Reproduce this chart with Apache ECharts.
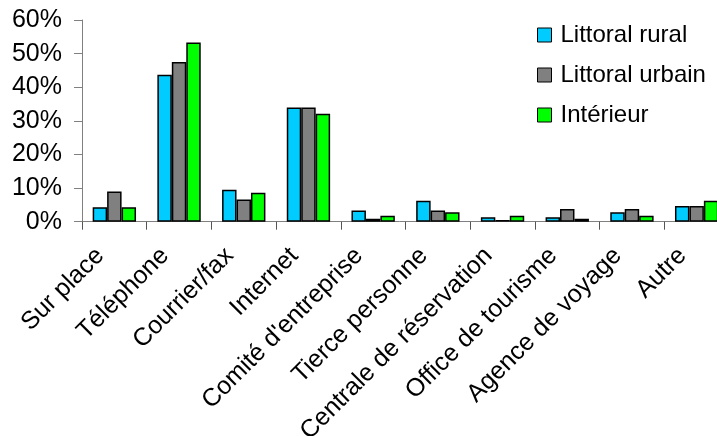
<!DOCTYPE html>
<html>
<head>
<meta charset="utf-8">
<script src="https://cdn.jsdelivr.net/npm/echarts@6/dist/echarts.min.js"></script>
<style>
  html, body { margin: 0; padding: 0; background: #fff; }
  #chart { width: 717px; height: 436px; }
</style>
</head>
<body>
<div id="chart"></div>
<script>
// Booking channels, share of answers per zone (%)
const categories = ['Sur place', 'Téléphone', 'Courrier/fax', 'Internet', "Comité d'entreprise",
  'Tierce personne', 'Centrale de réservation', 'Office de tourisme', 'Agence de voyage', 'Autre'];
const seriesNames = ['Littoral rural', 'Littoral urbain', 'Intérieur'];
const littoralRural  = [4.3, 43.7, 9.5, 34.0, 3.3, 6.2, 1.3, 1.3, 2.8, 4.7];
const littoralUrbain = [9.0, 47.5, 6.6, 34.0, 0.9, 3.3, 0.5, 3.8, 3.8, 4.7];
const interieur      = [4.3, 53.3, 8.6, 32.1, 1.8, 2.8, 1.8, 0.9, 1.8, 6.2];
const yTicks = [0, 10, 20, 30, 40, 50, 60];

const colors = ['#00CCFF', '#808080', '#00FF00'];
const font = 'Liberation Sans, Arial, sans-serif';

const chart = echarts.init(document.getElementById('chart'), null, { renderer: 'canvas' });

const values = [littoralRural, littoralUrbain, interieur];

chart.setOption({
  animation: false,
  backgroundColor: '#ffffff',
  textStyle: { fontFamily: font },
  // the plot area runs slightly past the right edge of the canvas
  grid: { left: 82, top: 20, width: 647, height: 201.7, outerBoundsMode: 'none', containLabel: false },
  legend: {
    orient: 'vertical',
    left: 537,
    top: 23,
    padding: 0,
    itemWidth: 14,
    itemHeight: 14,
    itemGap: 16,
    icon: 'rect',
    itemStyle: { borderColor: '#000', borderWidth: 1 },
    textStyle: { fontFamily: font, fontSize: 24, color: '#000', lineHeight: 24, padding: [0, 0, 0, 4] },
    data: seriesNames
  },
  xAxis: {
    type: 'category',
    data: categories,
    boundaryGap: true,
    axisLine: { lineStyle: { color: '#808080', width: 1 } },
    axisTick: { show: true, length: 8, lineStyle: { color: '#555' } },
    axisLabel: {
      rotate: 45,
      interval: 0,
      margin: 16,
      padding: [0, 20, 0, 0],
      fontFamily: font,
      fontSize: 25,
      color: '#000'
    }
  },
  yAxis: {
    type: 'value',
    min: yTicks[0],
    max: yTicks[yTicks.length - 1],
    interval: 10,
    axisLine: { show: true, lineStyle: { color: '#808080', width: 1 } },
    axisTick: { show: true, length: 8, lineStyle: { color: '#808080' } },
    splitLine: { show: false },
    axisLabel: {
      margin: 20,
      fontFamily: font,
      fontSize: 25,
      color: '#000',
      formatter: v => v + '%'
    }
  },
  series: seriesNames.map((name, i) => ({
    name: name,
    type: 'bar',
    data: values[i],
    barGap: '0%',
    barCategoryGap: '33%',
    itemStyle: { color: colors[i], borderColor: '#000', borderWidth: 1.5 }
  }))
});
</script>
</body>
</html>
